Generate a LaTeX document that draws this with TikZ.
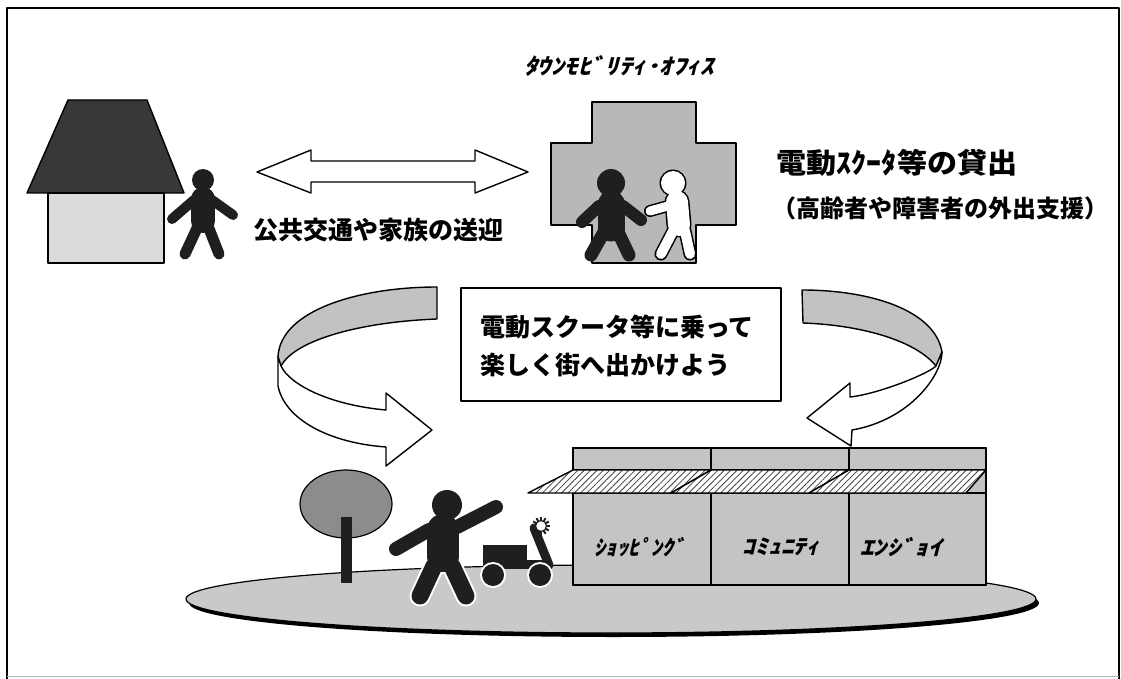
\documentclass[tikz,border=0pt]{standalone}
\usepackage{fontspec}
\usetikzlibrary{patterns.meta}
\newfontfamily\jp{Noto Sans CJK JP}
\newfontfamily\jpsl{Noto Sans CJK JP}[FakeSlant=0.2]
\newcommand\fsz[1]{\fontsize{#1}{#1}\selectfont}

\definecolor{ink}{gray}{0.12}
\definecolor{roofgrey}{gray}{0.22}
\definecolor{wallgrey}{gray}{0.86}
\definecolor{crossgrey}{gray}{0.72}
\definecolor{bandgrey}{gray}{0.76}
\definecolor{storegrey}{gray}{0.77}
\definecolor{groundgrey}{gray}{0.79}
\definecolor{treegrey}{gray}{0.55}

% figures: #1 colour, #2 extra stroke width (used for outline passes)
\newcommand\homeman[2]{%
  \fill[#1] (203,180) circle[radius={11+#2/2}];
  \draw[#1, line cap=round, line width={24+#2}] (203,199) -- (203,221);
  \draw[#1, line cap=round, line width={10+#2}] (194,200) -- (172,219) (212,200) -- (233,215);
  \draw[#1, line cap=round, line width={11+#2}] (198,226) -- (185,254) (208,226) -- (219,254);
}
\newcommand\deskman[2]{%
  \fill[#1] (611,183) circle[radius={14+#2/2}];
  \draw[#1, line cap=round, line width={27+#2}] (611,204) -- (611,228);
  \draw[#1, line cap=round, line width={12+#2}] (599,206) -- (582,222) (623,206) -- (641,220);
  \draw[#1, line cap=round, line width={13+#2}] (604,232) -- (591,255) (618,232) -- (629,255);
}
\newcommand\helperman[2]{%
  \fill[#1] (673,183) circle[radius={12+#2/2}];
  \draw[#1, line cap=round, line width={22+#2}] (677,202) -- (679,225);
  \draw[#1, line cap=round, line width={9+#2}] (668,206) -- (650,211);
  \draw[#1, line cap=round, line width={10+#2}] (673,231) -- (661,254) (685,231) -- (690,254);
}
\newcommand\waver[2]{%
  \fill[#1] (447,505) circle[radius={15+#2/2}];
  \draw[#1, line cap=round, line width={32+#2}] (443,530) -- (443,556);
  \draw[#1, line cap=round, line width={14+#2}] (429,530) -- (396,549) (457,527) -- (496,507);
  \draw[#1, line cap=round, line width={17+#2}] (434,566) -- (420,596) (452,566) -- (466,596);
}

\begin{document}
\begin{tikzpicture}[x=1pt, y=-1pt, line join=round,
  edge/.style={draw=black, line width=1.4pt},
  txt/.style={inner sep=0pt, font=\jp\bfseries}]
\useasboundingbox (0,0) rectangle (1121,679);

% frame
\draw[line width=2.2pt] (7,679) -- (7,8) -- (1119,8) -- (1119,679);
\draw[black!30, line width=1pt] (7,676) -- (1119,676);

% house
\filldraw[edge, fill=roofgrey] (68,100) -- (147,100) -- (184,193) -- (27,193) -- cycle;
\filldraw[edge, fill=wallgrey] (48,193) rectangle (164,263);
\homeman{white}{4}
\homeman{ink}{0}

% two-way arrow
\filldraw[edge, fill=white] (257,172) -- (311,150) -- (311,161) -- (475,161) -- (475,150)
  -- (528,172) -- (475,193) -- (475,182) -- (311,182) -- (311,193) -- cycle;
\node[txt, font=\jp\bfseries\fsz{25}] (transit) at (378,230) {公共交通や家族の送迎};

% mobility office
\node[inner sep=0pt] (officename) at (619,66)
  {\scalebox{1.23}[1]{\jpsl\bfseries\fsz{22}ﾀｳﾝﾓﾋﾞﾘﾃｨ･ｵﾌｨｽ}};
\filldraw[edge, fill=crossgrey] (592,102) -- (696,102) -- (696,143) -- (736,143) -- (736,225)
  -- (696,225) -- (696,263) -- (592,263) -- (592,225) -- (551,225) -- (551,143) -- (592,143) -- cycle;
\deskman{ink}{0}
\helperman{black}{3}
\helperman{white}{0}

\node[inner sep=0pt] (lend) at (897,163)
  {\scalebox{1.075}[1]{\jp\bfseries\fsz{28}電動ｽｸｰﾀ等の貸出}};
\node[txt, font=\jp\bfseries\fsz{24}] (support) at (940,208) {（高齢者や障害者の外出支援）};

% message box
\draw[line width=1.2pt] (461,288) rectangle (781,401);
\node[txt, font=\jp\bfseries\fsz{25}, anchor=west] (ride1) at (480,327) {電動スクータ等に乗って};
\node[txt, font=\jp\bfseries\fsz{25}, anchor=west] (ride2) at (480,365) {楽しく街へ出かけよう};

% left curved arrow: back of the band, then front with head
\filldraw[edge, fill=bandgrey] (278,357) .. controls (280,310) and (360,287) .. (437,287)
  -- (437,319) .. controls (360,322) and (295,340) .. (281,366) -- cycle;
\filldraw[edge, fill=white] (278,357) -- (278,386) .. controls (285,420) and (330,443) .. (386,447)
  -- (386,466) -- (432,430) -- (386,393) -- (386,410)
  .. controls (330,405) and (290,385) .. (281,366) -- cycle;

% right curved arrow
\filldraw[edge, fill=bandgrey] (802,290) .. controls (870,290) and (935,310) .. (942,352)
  -- (936,366) .. controls (915,340) and (860,325) .. (803,323) -- cycle;
\filldraw[edge, fill=white] (942,352) .. controls (942,375) and (910,420) .. (852,430)
  -- (851,446) -- (807,418) -- (850,383) -- (850,397)
  .. controls (878,394) and (928,374) .. (936,366) -- cycle;

% ground
\fill[black] (614,603) ellipse[x radius=425, y radius=34];
\filldraw[draw=black, line width=1.2pt, fill=groundgrey] (611,599) ellipse[x radius=425, y radius=34];

% tree
\filldraw[draw=black, line width=1.2pt, fill=treegrey] (346,504) ellipse[x radius=46, y radius=34];
\fill[ink] (341,517) rectangle (352,583);

% waving person
\waver{white}{4}
\waver{ink}{0}

% scooter
\fill[ink] (483,545) rectangle (527,566);
\fill[ink] (483,560) rectangle (552,569);
\draw[ink, line width=9pt, line cap=round] (549,565) -- (534,528);
\foreach \c in {(493,575),(540,575)} {
  \fill[white] \c circle[radius=13];
  \fill[ink] \c circle[radius=11];
}
\foreach \a in {0,30,...,330} \draw[ink, line width=2pt] (541,526) -- ++(\a:9);
\filldraw[fill=white, draw=ink, line width=1.2pt] (541,526) circle[radius=5.5];

% shops
\filldraw[edge, fill=storegrey] (573,448) rectangle (986,585);
\foreach \a/\b in {573/711, 711/849, 849/986} {
  \filldraw[edge, fill=storegrey] (\a,448) rectangle (\b,470);
  \filldraw[edge, fill=storegrey] (\a,493) rectangle (\b,585);
}
\foreach \p in {{(528,493) -- (573,470) -- (711,470) -- (671,493)},
                {(671,493) -- (711,470) -- (849,470) -- (809,493)},
                {(809,493) -- (849,470) -- (986,470) -- (966,493)}} {
  \fill[white] \p -- cycle;
  \fill[pattern={Lines[angle=45, distance=4.5pt, line width=0.8pt]}, pattern color=black!75] \p -- cycle;
  \draw[edge] \p -- cycle;
}
\node[inner sep=0pt] (shopping) at (640,547) {\scalebox{1.08}[1]{\jpsl\bfseries\fsz{21}ｼｮｯﾋﾟﾝｸﾞ}};
\node[inner sep=0pt] (community) at (781,547) {\scalebox{1.22}[1]{\jpsl\bfseries\fsz{21}ｺﾐｭﾆﾃｨ}};
\node[inner sep=0pt] (enjoy) at (901,547) {\scalebox{1.3}[1]{\jpsl\bfseries\fsz{21}ｴﾝｼﾞｮｲ}};
\end{tikzpicture}
\end{document}
